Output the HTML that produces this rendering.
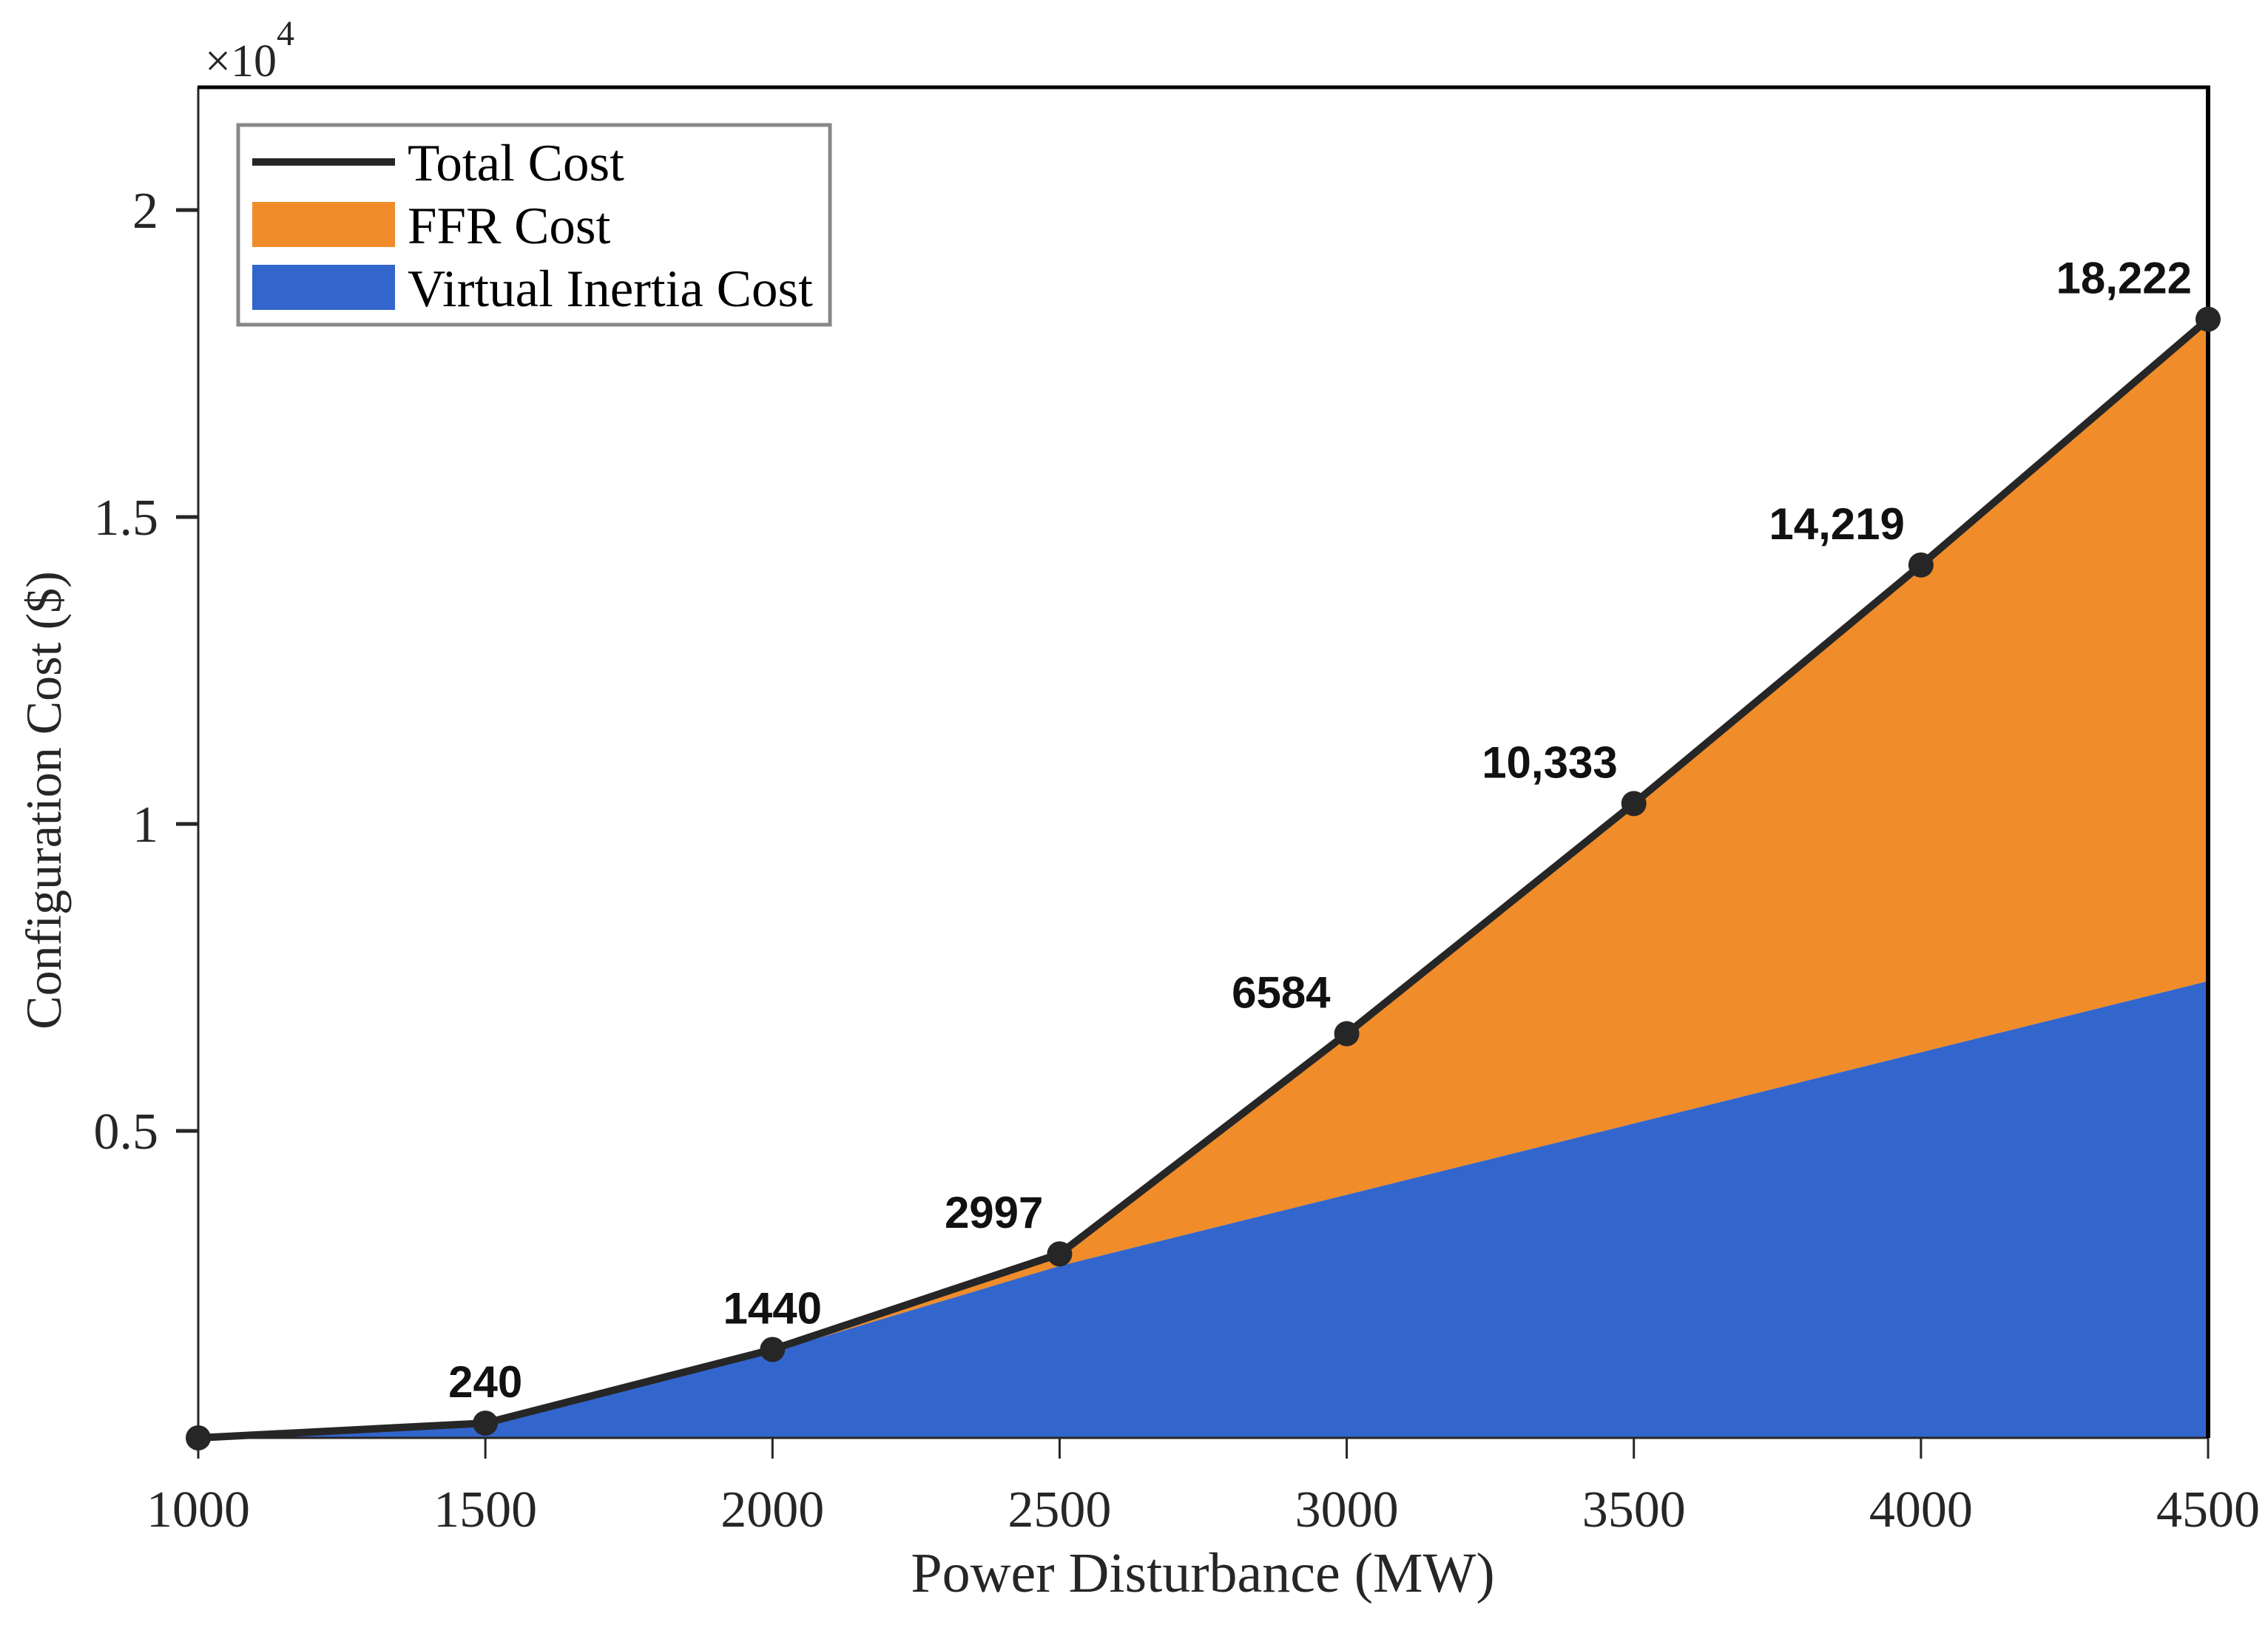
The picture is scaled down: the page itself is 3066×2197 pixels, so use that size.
<!DOCTYPE html>
<html><head><meta charset="utf-8">
<style>
html,body{margin:0;padding:0;background:#fff;}
svg{display:block;}
.tick{font-family:"Liberation Serif",serif;font-size:70px;fill:#262626;}
.lbl{font-family:"Liberation Sans",sans-serif;font-size:60px;font-weight:bold;fill:#111;}
</style></head>
<body>
<svg id="chart" width="3066" height="2197" viewBox="0 0 3066 2197" xmlns="http://www.w3.org/2000/svg">
  <g id="areas"></g>
  <g id="axes"></g>
  <g id="marks"></g>
  <text x="277" y="103" class="tick" style="font-size:62px">×10<tspan dy="-42" font-size="48">4</tspan></text>
  <text x="1626" y="2152" class="tick" style="font-size:76px" text-anchor="middle">Power Disturbance (MW)</text>
  <text transform="translate(82,1082) rotate(-90)" class="tick" style="font-size:68px" text-anchor="middle">Configuration Cost ($)</text>
  <g>
    <rect x="322" y="169" width="800" height="270" fill="#fff" stroke="#888" stroke-width="5"/>
    <line x1="341" y1="219" x2="534" y2="219" stroke="#262626" stroke-width="10"/>
    <text x="551" y="244" class="tick" style="fill:#000;font-size:71px">Total Cost</text>
    <rect x="341" y="273" width="193" height="61" fill="#F08C2A"/>
    <text x="551" y="329" class="tick" style="fill:#000;font-size:71px">FFR Cost</text>
    <rect x="341" y="358" width="193" height="61" fill="#3366CC"/>
    <text x="551" y="414" class="tick" style="fill:#000;font-size:71px">Virtual Inertia Cost</text>
  </g>
</svg>
<script>
const categories = [1000, 1500, 2000, 2500, 3000, 3500, 4000, 4500];
const totalCost = [0, 240, 1440, 2997, 6584, 10333, 14219, 18222];
const virtualInertiaCost = [0, 240, 1400, 2800, 3960, 5120, 6280, 7440];
const valueLabels = ["", "240", "1440", "2997", "6584", "10,333", "14,219", "18,222"];
const xTicks = [1000, 1500, 2000, 2500, 3000, 3500, 4000, 4500];
const yTicks = [5000, 10000, 15000, 20000];
const yTickLabels = ["0.5", "1", "1.5", "2"];

const NS = "http://www.w3.org/2000/svg";
const X0 = 268, X1 = 2985, Y0 = 1944, Y1 = 118;
const xMin = 1000, xMax = 4500, yMin = 0, yMax = 22000;
const xs = v => X0 + (v - xMin) / (xMax - xMin) * (X1 - X0);
const ys = v => Y0 - (v - yMin) / (yMax - yMin) * (Y0 - Y1);
function mk(tag, attrs, parent) {
  const e = document.createElementNS(NS, tag);
  for (const k in attrs) e.setAttribute(k, attrs[k]);
  parent.appendChild(e);
  return e;
}
const areasG = document.getElementById('areas');
const axesG = document.getElementById('axes');
const marksG = document.getElementById('marks');

const totalPts = categories.map((c, i) => xs(c) + ',' + ys(totalCost[i]));
const viPtsRev = categories.map((c, i) => xs(c) + ',' + ys(virtualInertiaCost[i])).reverse();
const ffr = mk('polygon', {points: totalPts.concat(viPtsRev).join(' '), fill: '#F08C2A'}, areasG);


const viPts = categories.map((c, i) => xs(c) + ',' + ys(virtualInertiaCost[i]));
viPts.push(xs(categories[categories.length - 1]) + ',' + ys(0));
viPts.push(xs(categories[0]) + ',' + ys(0));
const vi = mk('polygon', {points: viPts.join(' '), fill: '#3366CC'}, areasG);



const la = mk('line', {x1: X0, y1: Y1, x2: X0, y2: Y0, stroke: '#262626', 'stroke-width': 3}, axesG);


const ba = mk('line', {x1: X0, y1: Y0, x2: X1, y2: Y0, stroke: '#262626', 'stroke-width': 3}, axesG);


const ta = mk('line', {x1: X0 - 1, y1: Y1, x2: X1 + 3, y2: Y1, stroke: '#000', 'stroke-width': 5}, axesG);


const ra = mk('line', {x1: X1, y1: Y1, x2: X1, y2: Y0, stroke: '#000', 'stroke-width': 6}, axesG);



xTicks.forEach(t => {
  const l = mk('line', {x1: xs(t), y1: Y0, x2: xs(t), y2: Y0 + 28, stroke: '#262626', 'stroke-width': 3}, axesG);
  
  
  const tx = mk('text', {x: xs(t), y: Y0 + 120, class: 'tick', 'text-anchor': 'middle'}, axesG);
  tx.textContent = t;
  
  
});
yTicks.forEach((t, i) => {
  const l = mk('line', {x1: X0 - 30, y1: ys(t), x2: X0, y2: ys(t), stroke: '#262626', 'stroke-width': 5}, axesG);
  
  
  const tx = mk('text', {x: 214, y: ys(t) + 24, class: 'tick', 'text-anchor': 'end'}, axesG);
  tx.textContent = yTickLabels[i];
  
  
});

const line = mk('polyline', {points: totalPts.join(' '), fill: 'none', stroke: '#262626', 'stroke-width': 10, 'stroke-linejoin': 'round'}, marksG);


categories.forEach((c, i) => {
  const p = mk('circle', {cx: xs(c), cy: ys(totalCost[i]), r: 17, fill: '#262626'}, marksG);
  
  
  if (valueLabels[i]) {
    const centered = i <= 2;
    const t = mk('text', {x: centered ? xs(c) : xs(c) - 22, y: ys(totalCost[i]) - 35, class: 'lbl', 'text-anchor': centered ? 'middle' : 'end'}, marksG);
    t.textContent = valueLabels[i];
    
    
  }
});
</script>
</body></html>
